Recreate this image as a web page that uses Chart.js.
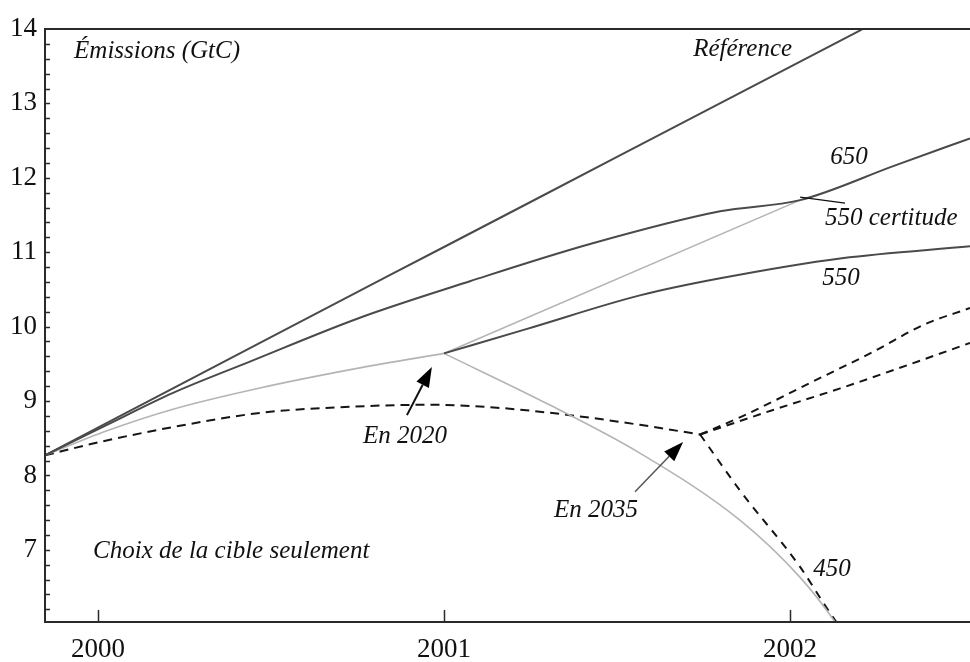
<!DOCTYPE html>
<html lang="fr">
<head>
<meta charset="utf-8">
<title>Émissions (GtC)</title>
<script src="https://cdn.jsdelivr.net/npm/chart.js@4.4.1/dist/chart.umd.min.js"></script>
<style>
  html, body { margin: 0; padding: 0; background: #fff; }
  #wrap { position: relative; width: 970px; height: 662px; }
</style>
</head>
<body>
<div id="wrap"><canvas id="emissionsChart"></canvas></div>
<script>
// Graduations des axes
const yearTicks = [2000, 2001, 2002];
const emissionTicks = [7, 8, 9, 10, 11, 12, 13, 14];

// Référence
const refYears  = [1999.847, 2000.5, 2001, 2001.5, 2002, 2002.3];
const refValues = [8.27, 9.86, 11.07, 12.28, 13.49, 14.22];

// 650
const t650Years  = [1999.847, 2000.026, 2000.217, 2000.439, 2000.757, 2001.075, 2001.422, 2001.798, 2002.029, 2002.3, 2002.52];
const t650Values = [8.27, 8.68, 9.11, 9.53, 10.12, 10.61, 11.11, 11.55, 11.70, 12.16, 12.53];

// trajectoire commune jusqu'en 2020 (gris clair)
const hedgeYears  = [1999.847, 2000.026, 2000.217, 2000.468, 2000.757, 2001.0];
const hedgeValues = [8.27, 8.60, 8.89, 9.175, 9.445, 9.64];

// branche montante après 2020 (550 certitude)
const certYears  = [2001.0, 2002.029];
const certValues = [9.64, 11.70];

// branche descendante après 2020 (450)
const t450Years  = [2001.0, 2001.306, 2001.566, 2001.855, 2002.029, 2002.13, 2002.2];
const t450Values = [9.64, 8.946, 8.30, 7.40, 6.63, 6.03, 5.5];

// 550
const t550Years  = [2001.0, 2001.24, 2001.566, 2001.798, 2002.15, 2002.52];
const t550Values = [9.64, 9.97, 10.42, 10.65, 10.92, 11.08];

// trajectoire commune jusqu'en 2035 (tirets)
const waitYears  = [1999.847, 2000.006, 2000.217, 2000.468, 2000.671, 2000.96, 2001.153, 2001.364, 2001.566, 2001.74];
const waitValues = [8.27, 8.45, 8.65, 8.84, 8.91, 8.95, 8.91, 8.81, 8.68, 8.55];

// branches après 2035 (tirets)
const lateHighYears  = [2001.74, 2001.855, 2002.087, 2002.24, 2002.384, 2002.52];
const lateHighValues = [8.55, 8.78, 9.31, 9.66, 10.02, 10.25];
const lateMidYears   = [2001.74, 2001.951, 2002.145, 2002.338, 2002.52];
const lateMidValues  = [8.55, 8.88, 9.17, 9.48, 9.78];
const lateLowYears   = [2001.74, 2001.855, 2002.029, 2002.10, 2002.16];
const lateLowValues  = [8.55, 7.80, 6.77, 6.26, 5.85];

const SERIF = '"Liberation Serif", "DejaVu Serif", serif';
const DARK = '#4a4a4a';
const LIGHT = '#b4b4b4';
const DASH = '#151515';

function pts(xs, ys) {
    return xs.map((x, i) => ({ x: x, y: ys[i] }));
}

function line(label, xs, ys, color, width, dash) {
    return {
        label: label,
        data: pts(xs, ys),
        borderColor: color,
        borderWidth: width,
        borderDash: dash || [],
        pointRadius: 0,
        showLine: true,
        fill: false,
        cubicInterpolationMode: 'monotone'
    };
}

// textes et flèches, en coordonnées des axes
const notes = [
    { text: 'Émissions (GtC)', x: 1999.931, y: 13.70, align: 'left' },
    { text: 'Référence', x: 2001.72, y: 13.72, align: 'left' },
    { text: '650', x: 2002.17, y: 12.28, align: 'center' },
    { text: '550 certitude', x: 2002.101, y: 11.45, align: 'left' },
    { text: '550', x: 2002.147, y: 10.65, align: 'center' },
    { text: 'En 2020', x: 2000.887, y: 8.52, align: 'center' },
    { text: 'En 2035', x: 2001.439, y: 7.53, align: 'center' },
    { text: 'Choix de la cible seulement', x: 1999.986, y: 6.98, align: 'left' },
    { text: '450', x: 2002.121, y: 6.74, align: 'center' }
];
const arrows = [
    { from: [2000.893, 8.81], to: [2000.965, 9.457], color: '#111', width: 2 },
    { from: [2001.552, 7.78], to: [2001.691, 8.45], color: '#555', width: 1.5 }
];
const leader = { from: [2002.029, 11.74], to: [2002.159, 11.66] };

const decor = {
    id: 'decor',
    afterDatasetsDraw(chart) {
        const { ctx, chartArea: a, scales: { x, y } } = chart;
        ctx.save();

        // cadre : haut, gauche, bas
        ctx.strokeStyle = '#2a2a2a';
        ctx.lineWidth = 2;
        ctx.beginPath();
        ctx.moveTo(a.right, a.top);
        ctx.lineTo(a.left, a.top);
        ctx.lineTo(a.left, a.bottom);
        ctx.lineTo(a.right, a.bottom);
        ctx.stroke();

        // petites graduations vers l'intérieur
        ctx.lineWidth = 1.5;
        ctx.beginPath();
        for (let i = 31; i < 70; i++) {
            const py = Math.round(y.getPixelForValue(i / 5)) + 0.5;
            ctx.moveTo(a.left, py);
            ctx.lineTo(a.left + 5, py);
        }
        yearTicks.forEach(v => {
            const px = Math.round(x.getPixelForValue(v)) + 0.5;
            ctx.moveTo(px, a.bottom);
            ctx.lineTo(px, a.bottom - 12);
        });
        ctx.stroke();

        // trait de rappel "550 certitude"
        ctx.strokeStyle = '#111';
        ctx.lineWidth = 1.3;
        ctx.beginPath();
        ctx.moveTo(x.getPixelForValue(leader.from[0]), y.getPixelForValue(leader.from[1]));
        ctx.lineTo(x.getPixelForValue(leader.to[0]), y.getPixelForValue(leader.to[1]));
        ctx.stroke();

        // flèches
        arrows.forEach(ar => {
            const x0 = x.getPixelForValue(ar.from[0]), y0 = y.getPixelForValue(ar.from[1]);
            const x1 = x.getPixelForValue(ar.to[0]), y1 = y.getPixelForValue(ar.to[1]);
            const ang = Math.atan2(y1 - y0, x1 - x0);
            const len = 20, half = 7;
            const bx = x1 - len * Math.cos(ang), by = y1 - len * Math.sin(ang);
            ctx.strokeStyle = ar.color;
            ctx.lineWidth = ar.width;
            ctx.beginPath();
            ctx.moveTo(x0, y0);
            ctx.lineTo(bx, by);
            ctx.stroke();
            ctx.fillStyle = '#000';
            ctx.beginPath();
            ctx.moveTo(x1, y1);
            ctx.lineTo(bx + half * Math.sin(ang), by - half * Math.cos(ang));
            ctx.lineTo(bx - half * Math.sin(ang), by + half * Math.cos(ang));
            ctx.closePath();
            ctx.fill();
        });

        // annotations en italique
        ctx.fillStyle = '#111';
        ctx.font = 'italic 25px ' + SERIF;
        ctx.textBaseline = 'middle';
        notes.forEach(n => {
            ctx.textAlign = n.align;
            ctx.fillText(n.text, x.getPixelForValue(n.x), y.getPixelForValue(n.y));
        });
        ctx.restore();
    }
};

const ctx = document.getElementById('emissionsChart').getContext('2d');
const chart = new Chart(ctx, {
    type: 'scatter',
    data: {
        datasets: [
            line('Référence', refYears, refValues, DARK, 2),
            line('650', t650Years, t650Values, DARK, 2),
            line('550', t550Years, t550Values, DARK, 2),
            line('2020', hedgeYears, hedgeValues, LIGHT, 1.6),
            line('550 certitude', certYears, certValues, LIGHT, 1.6),
            line('450', t450Years, t450Values, LIGHT, 1.6),
            line('2035', waitYears, waitValues, DASH, 2, [9, 6]),
            line('2035 haut', lateHighYears, lateHighValues, DASH, 2, [8, 6]),
            line('2035 milieu', lateMidYears, lateMidValues, DASH, 2, [8, 6]),
            line('2035 bas', lateLowYears, lateLowValues, DASH, 2, [8, 7])
        ]
    },
    options: {
        responsive: true,
        maintainAspectRatio: false,
        animation: false,
        layout: { padding: { top: 29, right: 0, left: 0, bottom: 0 } },
        plugins: {
            legend: { display: false },
            tooltip: { enabled: false }
        },
        scales: {
            x: {
                type: 'linear',
                min: 1999.847,
                max: 2002.52,
                afterBuildTicks: s => { s.ticks = yearTicks.map(v => ({ value: v })); },
                afterFit: s => { s.height = 40; },
                grid: { display: false, drawTicks: false },
                border: { display: false },
                ticks: {
                    color: '#111',
                    padding: 12,
                    maxRotation: 0,
                    autoSkip: false,
                    font: { family: SERIF, size: 27 },
                    callback: v => String(v)
                }
            },
            y: {
                type: 'linear',
                min: 6.03,
                max: 14,
                afterBuildTicks: s => { s.ticks = emissionTicks.map(v => ({ value: v })); },
                afterFit: s => { s.width = 45; },
                grid: { display: false, drawTicks: false },
                border: { display: false },
                ticks: {
                    color: '#111',
                    padding: 8,
                    autoSkip: false,
                    font: { family: SERIF, size: 27 },
                    callback: v => String(v)
                }
            }
        }
    },
    plugins: [decor]
});
</script>
</body>
</html>
